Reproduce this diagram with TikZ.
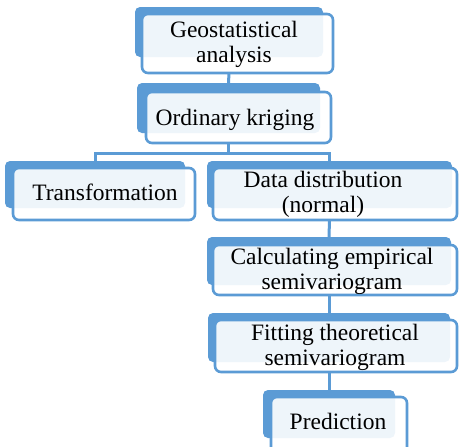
\documentclass[tikz,border=0pt]{standalone}
\usepackage{fontspec}
\setmainfont{Liberation Serif}
\definecolor{accent}{HTML}{5B9BD5}
\begin{document}
\begin{tikzpicture}[x=1pt,y=-1pt,
  backbox/.style={draw=none,fill=accent,rounded corners=5pt,inner sep=0pt,outer sep=0pt},
  frontbox/.style={draw=accent,line width=2.6pt,fill=white,fill opacity=0.9,rounded corners=6pt,inner sep=0pt,outer sep=0pt},
  txt/.style={inner sep=0pt,align=center,font=\fontsize{23.5}{25}\selectfont,anchor=base},
  link/.style={draw=accent,line width=3pt}]
\useasboundingbox (0,0) rectangle (459,447);
\clip (0,0) rectangle (459,447);
% box 1
\node[backbox,minimum width=188pt,minimum height=50pt] (b1) at (229,32) {};
\node[frontbox,minimum width=191pt,minimum height=59pt] (f1) at (237.5,43.5) {};
\node[txt] (t1) at (234,62.5) {Geostatistical\\analysis};
% box 2
\node[backbox,minimum width=183pt,minimum height=50pt] (b2) at (228.5,108) {};
\node[frontbox,minimum width=185pt,minimum height=51pt] (f2) at (238.5,117.5) {};
\node[txt] (t2) at (235,125) {Ordinary kriging};
% box 3
\node[backbox,minimum width=180pt,minimum height=47pt] (b3) at (95,184.5) {};
\node[frontbox,minimum width=182pt,minimum height=52pt] (f3) at (104,194) {};
\node[txt] (t3) at (105,200.5) {Transformation};
% box 4
\node[backbox,minimum width=245pt,minimum height=47pt] (b4) at (329.5,184.5) {};
\node[frontbox,minimum width=244pt,minimum height=52pt] (f4) at (335,194) {};
\node[txt] (t4) at (323,212.5) {Data distribution\\(normal)};
% box 5
\node[backbox,minimum width=244pt,minimum height=48pt] (b5) at (329,261) {};
\node[frontbox,minimum width=244pt,minimum height=50pt] (f5) at (335,270) {};
\node[txt] (t5) at (332,289.5) {Calculating empirical\\semivariogram};
% box 6
\node[backbox,minimum width=242pt,minimum height=49pt] (b6) at (329,337.5) {};
\node[frontbox,minimum width=242pt,minimum height=52pt] (f6) at (336,346) {};
\node[txt] (t6) at (335,365) {Fitting theoretical\\semivariogram};
% box 7
\node[backbox,minimum width=132pt,minimum height=48pt] (b7) at (329,414) {};
\node[frontbox,minimum width=136pt,minimum height=58pt] (f7) at (339,426) {};
\node[txt] (t7) at (338,429) {Prediction};
% connectors
\coordinate (j) at (b2.south |- 0,153);
\draw[link] (b1.south |- f1.south) -- (b2.north);
\draw[link] (b2.south |- f2.south) -- (j);
\draw[link] (b3.north) |- (j) -| (b4.north);
\draw[link] (b4.south |- f4.south) -- (b5.north);
\draw[link] (b5.south |- f5.south) -- (b6.north);
\draw[link] (b6.south |- f6.south) -- (b7.north);
\end{tikzpicture}
\end{document}
